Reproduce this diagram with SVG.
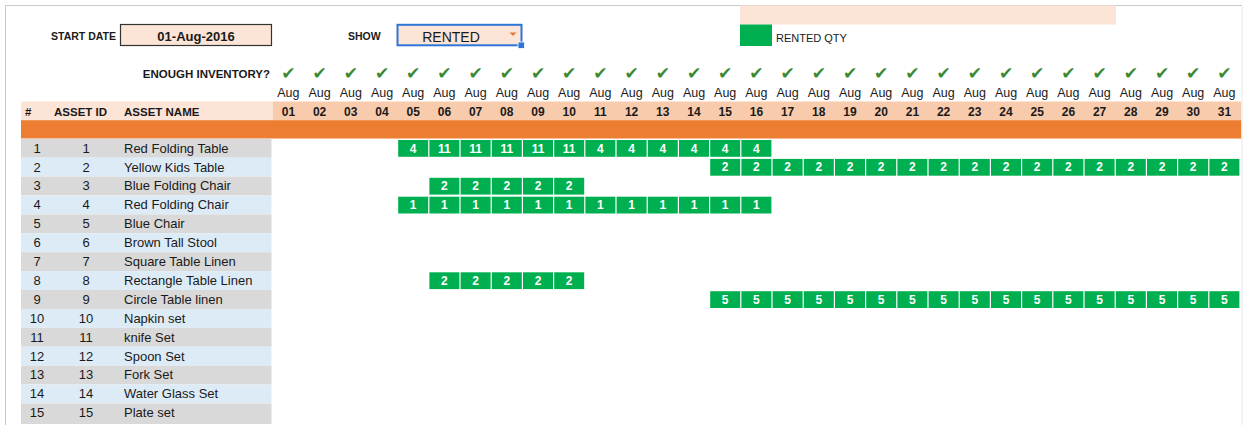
<svg xmlns="http://www.w3.org/2000/svg" width="1248" height="436" viewBox="0 0 1248 436">
<style>
text{font-family:"Liberation Sans",Arial,sans-serif;fill:#1a1a1a}
.lb{font-weight:bold;font-size:10.5px}
.hd{font-weight:bold;font-size:11.5px}
.aug{font-size:12.5px;text-anchor:middle}
.day{font-size:12px;font-weight:bold;text-anchor:middle}
.ck{font-family:"DejaVu Sans",sans-serif;font-size:17px;fill:#3A8A32;text-anchor:middle}
.rn{font-size:13px;text-anchor:middle}
.nm{font-size:13px}
.odd{fill:#D9D9D9}
.even{fill:#DDEBF7}
.g{fill:#00B050}
.gt{fill:#FFFFFF;font-weight:bold;font-size:12px;text-anchor:middle}
</style>
<rect x="0" y="0" width="1248" height="436" fill="#FFFFFF"/>
<g id="frame" fill="none" stroke="#C8C8C8" stroke-width="1">
<path d="M5.5 425 V5.5 H1242"/>
<path d="M1242 5.5 V425" stroke="#E4E8EC"/>
</g>
<g id="top-controls">
<rect x="740" y="5.5" width="376" height="19" fill="#FCE4D6"/>
<text x="51" y="40" class="lb">START DATE</text>
<rect x="120.5" y="24.5" width="151" height="21" fill="#FCE4D6" stroke="#333" stroke-width="1.2"/>
<text x="196" y="41" style="font-weight:bold;font-size:13px;text-anchor:middle">01-Aug-2016</text>
<text x="348" y="40" class="lb">SHOW</text>
<rect x="397.5" y="24.8" width="124" height="20.5" fill="#FCE4D6" stroke="#2E75D6" stroke-width="2"/>
<text x="451" y="42" style="font-size:14px;text-anchor:middle">RENTED</text>
<path d="M509.5 32.5 H516.5 L513 36 Z" fill="#E07B39"/>
<rect x="518" y="42" width="6.5" height="6.5" fill="#2E75D6" stroke="#FFFFFF" stroke-width="0.8"/>
<rect x="740" y="24.5" width="32" height="21.5" fill="#00B050"/>
<text x="776" y="42" style="font-size:11px">RENTED QTY</text>
</g>
<g id="inventory-row">
<text x="270" y="77.5" class="hd" style="text-anchor:end">ENOUGH INVENTORY?</text>
<text class="ck" y="79" x="288.4">✔</text><text class="ck" y="79" x="319.6">✔</text><text class="ck" y="79" x="350.8">✔</text><text class="ck" y="79" x="382">✔</text><text class="ck" y="79" x="413.2">✔</text><text class="ck" y="79" x="444.4">✔</text><text class="ck" y="79" x="475.6">✔</text><text class="ck" y="79" x="506.8">✔</text><text class="ck" y="79" x="538">✔</text><text class="ck" y="79" x="569.2">✔</text><text class="ck" y="79" x="600.4">✔</text><text class="ck" y="79" x="631.6">✔</text><text class="ck" y="79" x="662.8">✔</text><text class="ck" y="79" x="694">✔</text><text class="ck" y="79" x="725.2">✔</text><text class="ck" y="79" x="756.4">✔</text><text class="ck" y="79" x="787.6">✔</text><text class="ck" y="79" x="818.8">✔</text><text class="ck" y="79" x="850">✔</text><text class="ck" y="79" x="881.2">✔</text><text class="ck" y="79" x="912.4">✔</text><text class="ck" y="79" x="943.6">✔</text><text class="ck" y="79" x="974.8">✔</text><text class="ck" y="79" x="1006">✔</text><text class="ck" y="79" x="1037.2">✔</text><text class="ck" y="79" x="1068.4">✔</text><text class="ck" y="79" x="1099.6">✔</text><text class="ck" y="79" x="1130.8">✔</text><text class="ck" y="79" x="1162">✔</text><text class="ck" y="79" x="1193.2">✔</text><text class="ck" y="79" x="1224.4">✔</text>
</g>
<g id="month-row">
<text class="aug" y="97" x="288.4">Aug</text><text class="aug" y="97" x="319.6">Aug</text><text class="aug" y="97" x="350.8">Aug</text><text class="aug" y="97" x="382">Aug</text><text class="aug" y="97" x="413.2">Aug</text><text class="aug" y="97" x="444.4">Aug</text><text class="aug" y="97" x="475.6">Aug</text><text class="aug" y="97" x="506.8">Aug</text><text class="aug" y="97" x="538">Aug</text><text class="aug" y="97" x="569.2">Aug</text><text class="aug" y="97" x="600.4">Aug</text><text class="aug" y="97" x="631.6">Aug</text><text class="aug" y="97" x="662.8">Aug</text><text class="aug" y="97" x="694">Aug</text><text class="aug" y="97" x="725.2">Aug</text><text class="aug" y="97" x="756.4">Aug</text><text class="aug" y="97" x="787.6">Aug</text><text class="aug" y="97" x="818.8">Aug</text><text class="aug" y="97" x="850">Aug</text><text class="aug" y="97" x="881.2">Aug</text><text class="aug" y="97" x="912.4">Aug</text><text class="aug" y="97" x="943.6">Aug</text><text class="aug" y="97" x="974.8">Aug</text><text class="aug" y="97" x="1006">Aug</text><text class="aug" y="97" x="1037.2">Aug</text><text class="aug" y="97" x="1068.4">Aug</text><text class="aug" y="97" x="1099.6">Aug</text><text class="aug" y="97" x="1130.8">Aug</text><text class="aug" y="97" x="1162">Aug</text><text class="aug" y="97" x="1193.2">Aug</text><text class="aug" y="97" x="1224.4">Aug</text>
</g>
<g id="header-row">
<rect x="21" y="101.5" width="251.8" height="18.7" fill="#FCE4D6"/>
<rect x="272.8" y="101.5" width="968.4" height="18.7" fill="#F8CBAD"/>
<text x="25" y="115.8" class="hd">#</text>
<text x="54" y="115.8" class="hd">ASSET ID</text>
<text x="124" y="115.8" class="hd">ASSET NAME</text>
<text class="day" y="116" x="288.4">01</text><text class="day" y="116" x="319.6">02</text><text class="day" y="116" x="350.8">03</text><text class="day" y="116" x="382">04</text><text class="day" y="116" x="413.2">05</text><text class="day" y="116" x="444.4">06</text><text class="day" y="116" x="475.6">07</text><text class="day" y="116" x="506.8">08</text><text class="day" y="116" x="538">09</text><text class="day" y="116" x="569.2">10</text><text class="day" y="116" x="600.4">11</text><text class="day" y="116" x="631.6">12</text><text class="day" y="116" x="662.8">13</text><text class="day" y="116" x="694">14</text><text class="day" y="116" x="725.2">15</text><text class="day" y="116" x="756.4">16</text><text class="day" y="116" x="787.6">17</text><text class="day" y="116" x="818.8">18</text><text class="day" y="116" x="850">19</text><text class="day" y="116" x="881.2">20</text><text class="day" y="116" x="912.4">21</text><text class="day" y="116" x="943.6">22</text><text class="day" y="116" x="974.8">23</text><text class="day" y="116" x="1006">24</text><text class="day" y="116" x="1037.2">25</text><text class="day" y="116" x="1068.4">26</text><text class="day" y="116" x="1099.6">27</text><text class="day" y="116" x="1130.8">28</text><text class="day" y="116" x="1162">29</text><text class="day" y="116" x="1193.2">30</text><text class="day" y="116" x="1224.4">31</text>
<rect x="21" y="120.2" width="1220.2" height="18.3" fill="#ED7D31"/>
</g>
<g id="asset-rows">
<g id="asset-1"><rect class="odd" x="21" y="138.8" width="250.5" height="18.9"/><text class="rn" x="37" y="152.6">1</text><text class="rn" x="86" y="152.6">1</text><text class="nm" x="124" y="152.6">Red Folding Table</text></g>
<g id="asset-2"><rect class="even" x="21" y="157.7" width="250.5" height="18.9"/><text class="rn" x="37" y="171.5">2</text><text class="rn" x="86" y="171.5">2</text><text class="nm" x="124" y="171.5">Yellow Kids Table</text></g>
<g id="asset-3"><rect class="odd" x="21" y="176.6" width="250.5" height="18.9"/><text class="rn" x="37" y="190.4">3</text><text class="rn" x="86" y="190.4">3</text><text class="nm" x="124" y="190.4">Blue Folding Chair</text></g>
<g id="asset-4"><rect class="even" x="21" y="195.5" width="250.5" height="18.9"/><text class="rn" x="37" y="209.3">4</text><text class="rn" x="86" y="209.3">4</text><text class="nm" x="124" y="209.3">Red Folding Chair</text></g>
<g id="asset-5"><rect class="odd" x="21" y="214.4" width="250.5" height="18.9"/><text class="rn" x="37" y="228.2">5</text><text class="rn" x="86" y="228.2">5</text><text class="nm" x="124" y="228.2">Blue Chair</text></g>
<g id="asset-6"><rect class="even" x="21" y="233.3" width="250.5" height="18.9"/><text class="rn" x="37" y="247.1">6</text><text class="rn" x="86" y="247.1">6</text><text class="nm" x="124" y="247.1">Brown Tall Stool</text></g>
<g id="asset-7"><rect class="odd" x="21" y="252.2" width="250.5" height="18.9"/><text class="rn" x="37" y="266">7</text><text class="rn" x="86" y="266">7</text><text class="nm" x="124" y="266">Square Table Linen</text></g>
<g id="asset-8"><rect class="even" x="21" y="271.1" width="250.5" height="18.9"/><text class="rn" x="37" y="284.9">8</text><text class="rn" x="86" y="284.9">8</text><text class="nm" x="124" y="284.9">Rectangle Table Linen</text></g>
<g id="asset-9"><rect class="odd" x="21" y="290" width="250.5" height="18.9"/><text class="rn" x="37" y="303.8">9</text><text class="rn" x="86" y="303.8">9</text><text class="nm" x="124" y="303.8">Circle Table linen</text></g>
<g id="asset-10"><rect class="even" x="21" y="308.9" width="250.5" height="18.9"/><text class="rn" x="37" y="322.7">10</text><text class="rn" x="86" y="322.7">10</text><text class="nm" x="124" y="322.7">Napkin set</text></g>
<g id="asset-11"><rect class="odd" x="21" y="327.8" width="250.5" height="18.9"/><text class="rn" x="37" y="341.6">11</text><text class="rn" x="86" y="341.6">11</text><text class="nm" x="124" y="341.6">knife Set</text></g>
<g id="asset-12"><rect class="even" x="21" y="346.7" width="250.5" height="18.9"/><text class="rn" x="37" y="360.5">12</text><text class="rn" x="86" y="360.5">12</text><text class="nm" x="124" y="360.5">Spoon Set</text></g>
<g id="asset-13"><rect class="odd" x="21" y="365.6" width="250.5" height="18.9"/><text class="rn" x="37" y="379.4">13</text><text class="rn" x="86" y="379.4">13</text><text class="nm" x="124" y="379.4">Fork Set</text></g>
<g id="asset-14"><rect class="even" x="21" y="384.5" width="250.5" height="18.9"/><text class="rn" x="37" y="398.3">14</text><text class="rn" x="86" y="398.3">14</text><text class="nm" x="124" y="398.3">Water Glass Set</text></g>
<g id="asset-15"><rect class="odd" x="21" y="403.4" width="250.5" height="20.6"/><text class="rn" x="37" y="417.2">15</text><text class="rn" x="86" y="417.2">15</text><text class="nm" x="124" y="417.2">Plate set</text></g>
</g>
<g id="rented-cells">
<g id="cells-row-1">
<rect class="g" x="398.2" y="140" width="30" height="16.8"/><text class="gt" x="413.2" y="152.5">4</text>
<rect class="g" x="429.4" y="140" width="30" height="16.8"/><text class="gt" x="444.4" y="152.5">11</text>
<rect class="g" x="460.6" y="140" width="30" height="16.8"/><text class="gt" x="475.6" y="152.5">11</text>
<rect class="g" x="491.8" y="140" width="30" height="16.8"/><text class="gt" x="506.8" y="152.5">11</text>
<rect class="g" x="523" y="140" width="30" height="16.8"/><text class="gt" x="538" y="152.5">11</text>
<rect class="g" x="554.2" y="140" width="30" height="16.8"/><text class="gt" x="569.2" y="152.5">11</text>
<rect class="g" x="585.4" y="140" width="30" height="16.8"/><text class="gt" x="600.4" y="152.5">4</text>
<rect class="g" x="616.6" y="140" width="30" height="16.8"/><text class="gt" x="631.6" y="152.5">4</text>
<rect class="g" x="647.8" y="140" width="30" height="16.8"/><text class="gt" x="662.8" y="152.5">4</text>
<rect class="g" x="679" y="140" width="30" height="16.8"/><text class="gt" x="694" y="152.5">4</text>
<rect class="g" x="710.2" y="140" width="30" height="16.8"/><text class="gt" x="725.2" y="152.5">4</text>
<rect class="g" x="741.4" y="140" width="30" height="16.8"/><text class="gt" x="756.4" y="152.5">4</text>
</g>
<g id="cells-row-2">
<rect class="g" x="710.2" y="158.9" width="30" height="16.8"/><text class="gt" x="725.2" y="171.4">2</text>
<rect class="g" x="741.4" y="158.9" width="30" height="16.8"/><text class="gt" x="756.4" y="171.4">2</text>
<rect class="g" x="772.6" y="158.9" width="30" height="16.8"/><text class="gt" x="787.6" y="171.4">2</text>
<rect class="g" x="803.8" y="158.9" width="30" height="16.8"/><text class="gt" x="818.8" y="171.4">2</text>
<rect class="g" x="835" y="158.9" width="30" height="16.8"/><text class="gt" x="850" y="171.4">2</text>
<rect class="g" x="866.2" y="158.9" width="30" height="16.8"/><text class="gt" x="881.2" y="171.4">2</text>
<rect class="g" x="897.4" y="158.9" width="30" height="16.8"/><text class="gt" x="912.4" y="171.4">2</text>
<rect class="g" x="928.6" y="158.9" width="30" height="16.8"/><text class="gt" x="943.6" y="171.4">2</text>
<rect class="g" x="959.8" y="158.9" width="30" height="16.8"/><text class="gt" x="974.8" y="171.4">2</text>
<rect class="g" x="991" y="158.9" width="30" height="16.8"/><text class="gt" x="1006" y="171.4">2</text>
<rect class="g" x="1022.2" y="158.9" width="30" height="16.8"/><text class="gt" x="1037.2" y="171.4">2</text>
<rect class="g" x="1053.4" y="158.9" width="30" height="16.8"/><text class="gt" x="1068.4" y="171.4">2</text>
<rect class="g" x="1084.6" y="158.9" width="30" height="16.8"/><text class="gt" x="1099.6" y="171.4">2</text>
<rect class="g" x="1115.8" y="158.9" width="30" height="16.8"/><text class="gt" x="1130.8" y="171.4">2</text>
<rect class="g" x="1147" y="158.9" width="30" height="16.8"/><text class="gt" x="1162" y="171.4">2</text>
<rect class="g" x="1178.2" y="158.9" width="30" height="16.8"/><text class="gt" x="1193.2" y="171.4">2</text>
<rect class="g" x="1209.4" y="158.9" width="30" height="16.8"/><text class="gt" x="1224.4" y="171.4">2</text>
</g>
<g id="cells-row-3">
<rect class="g" x="429.4" y="177.8" width="30" height="16.8"/><text class="gt" x="444.4" y="190.3">2</text>
<rect class="g" x="460.6" y="177.8" width="30" height="16.8"/><text class="gt" x="475.6" y="190.3">2</text>
<rect class="g" x="491.8" y="177.8" width="30" height="16.8"/><text class="gt" x="506.8" y="190.3">2</text>
<rect class="g" x="523" y="177.8" width="30" height="16.8"/><text class="gt" x="538" y="190.3">2</text>
<rect class="g" x="554.2" y="177.8" width="30" height="16.8"/><text class="gt" x="569.2" y="190.3">2</text>
</g>
<g id="cells-row-4">
<rect class="g" x="398.2" y="196.7" width="30" height="16.8"/><text class="gt" x="413.2" y="209.2">1</text>
<rect class="g" x="429.4" y="196.7" width="30" height="16.8"/><text class="gt" x="444.4" y="209.2">1</text>
<rect class="g" x="460.6" y="196.7" width="30" height="16.8"/><text class="gt" x="475.6" y="209.2">1</text>
<rect class="g" x="491.8" y="196.7" width="30" height="16.8"/><text class="gt" x="506.8" y="209.2">1</text>
<rect class="g" x="523" y="196.7" width="30" height="16.8"/><text class="gt" x="538" y="209.2">1</text>
<rect class="g" x="554.2" y="196.7" width="30" height="16.8"/><text class="gt" x="569.2" y="209.2">1</text>
<rect class="g" x="585.4" y="196.7" width="30" height="16.8"/><text class="gt" x="600.4" y="209.2">1</text>
<rect class="g" x="616.6" y="196.7" width="30" height="16.8"/><text class="gt" x="631.6" y="209.2">1</text>
<rect class="g" x="647.8" y="196.7" width="30" height="16.8"/><text class="gt" x="662.8" y="209.2">1</text>
<rect class="g" x="679" y="196.7" width="30" height="16.8"/><text class="gt" x="694" y="209.2">1</text>
<rect class="g" x="710.2" y="196.7" width="30" height="16.8"/><text class="gt" x="725.2" y="209.2">1</text>
<rect class="g" x="741.4" y="196.7" width="30" height="16.8"/><text class="gt" x="756.4" y="209.2">1</text>
</g>
<g id="cells-row-8">
<rect class="g" x="429.4" y="272.3" width="30" height="16.8"/><text class="gt" x="444.4" y="284.8">2</text>
<rect class="g" x="460.6" y="272.3" width="30" height="16.8"/><text class="gt" x="475.6" y="284.8">2</text>
<rect class="g" x="491.8" y="272.3" width="30" height="16.8"/><text class="gt" x="506.8" y="284.8">2</text>
<rect class="g" x="523" y="272.3" width="30" height="16.8"/><text class="gt" x="538" y="284.8">2</text>
<rect class="g" x="554.2" y="272.3" width="30" height="16.8"/><text class="gt" x="569.2" y="284.8">2</text>
</g>
<g id="cells-row-9">
<rect class="g" x="710.2" y="291.2" width="30" height="16.8"/><text class="gt" x="725.2" y="303.7">5</text>
<rect class="g" x="741.4" y="291.2" width="30" height="16.8"/><text class="gt" x="756.4" y="303.7">5</text>
<rect class="g" x="772.6" y="291.2" width="30" height="16.8"/><text class="gt" x="787.6" y="303.7">5</text>
<rect class="g" x="803.8" y="291.2" width="30" height="16.8"/><text class="gt" x="818.8" y="303.7">5</text>
<rect class="g" x="835" y="291.2" width="30" height="16.8"/><text class="gt" x="850" y="303.7">5</text>
<rect class="g" x="866.2" y="291.2" width="30" height="16.8"/><text class="gt" x="881.2" y="303.7">5</text>
<rect class="g" x="897.4" y="291.2" width="30" height="16.8"/><text class="gt" x="912.4" y="303.7">5</text>
<rect class="g" x="928.6" y="291.2" width="30" height="16.8"/><text class="gt" x="943.6" y="303.7">5</text>
<rect class="g" x="959.8" y="291.2" width="30" height="16.8"/><text class="gt" x="974.8" y="303.7">5</text>
<rect class="g" x="991" y="291.2" width="30" height="16.8"/><text class="gt" x="1006" y="303.7">5</text>
<rect class="g" x="1022.2" y="291.2" width="30" height="16.8"/><text class="gt" x="1037.2" y="303.7">5</text>
<rect class="g" x="1053.4" y="291.2" width="30" height="16.8"/><text class="gt" x="1068.4" y="303.7">5</text>
<rect class="g" x="1084.6" y="291.2" width="30" height="16.8"/><text class="gt" x="1099.6" y="303.7">5</text>
<rect class="g" x="1115.8" y="291.2" width="30" height="16.8"/><text class="gt" x="1130.8" y="303.7">5</text>
<rect class="g" x="1147" y="291.2" width="30" height="16.8"/><text class="gt" x="1162" y="303.7">5</text>
<rect class="g" x="1178.2" y="291.2" width="30" height="16.8"/><text class="gt" x="1193.2" y="303.7">5</text>
<rect class="g" x="1209.4" y="291.2" width="30" height="16.8"/><text class="gt" x="1224.4" y="303.7">5</text>
</g>
</g>
<g id="connectors"/>
</svg>
